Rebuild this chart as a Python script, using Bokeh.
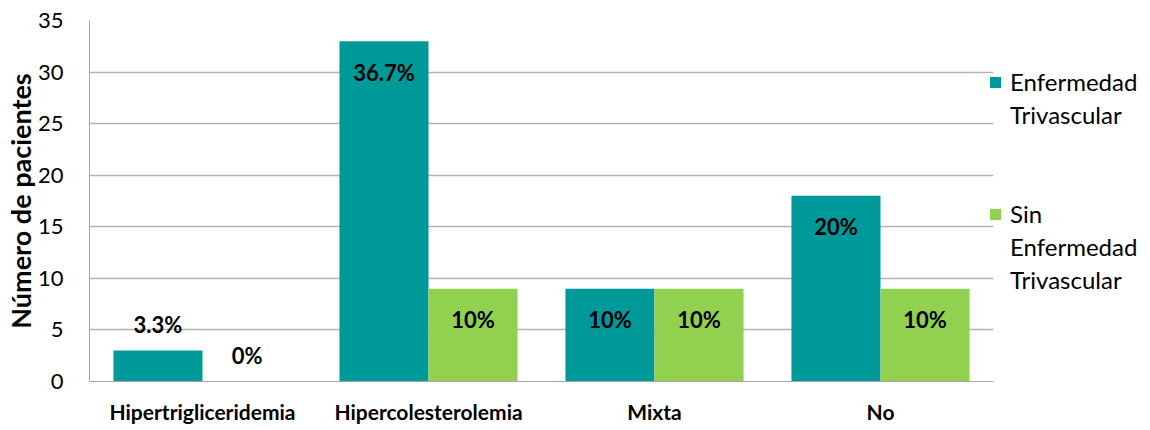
from bokeh.plotting import figure
from bokeh.models import (ColumnDataSource, FactorRange, Range1d, FixedTicker,
                          LabelSet, Legend, LegendItem)
from bokeh.core.properties import value
from bokeh.transform import dodge
from bokeh.embed import file_html
from bokeh.resources import INLINE

categories = ["Hipertrigliceridemia", "Hipercolesterolemia", "Mixta", "No"]
enfermedad = [3, 33, 9, 18]
sin_enfermedad = [0, 9, 9, 9]
enf_labels = ["3.3%", "36.7%", "10%", "20%"]
sin_labels = ["0%", "10%", "10%", "10%"]
series_lines = [["Enfermedad", "Trivascular"], ["Sin", "Enfermedad", "Trivascular"]]
y_ticks = [0, 5, 10, 15, 20, 25, 30, 35]

TEAL = "#009999"
GREEN = "#92D050"
FONT = "Lato"

p = figure(frame_width=904, frame_height=361,
           x_range=FactorRange(factors=categories, range_padding=0),
           y_range=Range1d(0, 35), output_backend="svg", toolbar_location=None,
           min_border_left=89, min_border_right=149, min_border_top=20,
           min_border_bottom=45)
p.outline_line_color = None

bw = 0.394
src = ColumnDataSource(dict(cat=categories, enf=enfermedad, sin=sin_enfermedad,
                            enf_lab=enf_labels, sin_lab=sin_labels,
                            enf_off=[26 if v < 5 else -31 for v in enfermedad],
                            sin_off=[26 if v < 5 else -31 for v in sin_enfermedad]))

r1 = p.vbar(x=dodge("cat", -bw / 2, range=p.x_range), top="enf", width=bw,
            source=src, fill_color=TEAL, line_color=None)
r2 = p.vbar(x=dodge("cat", bw / 2, range=p.x_range), top="sin", width=bw,
            source=src, fill_color=GREEN, line_color=None)
blank = p.vbar(x=[], top=[], width=0.1, fill_alpha=0, line_alpha=0)

for xo, ycol, lab, off in [(-bw / 2, "enf", "enf_lab", "enf_off"),
                           (bw / 2, "sin", "sin_lab", "sin_off")]:
    ls = LabelSet(x=dodge("cat", xo, range=p.x_range), y=ycol, text=lab,
                  y_offset=off, source=src, text_align="center",
                  text_baseline="middle", text_font=value(FONT),
                  text_font_style="bold", text_font_size="22px",
                  text_color="black")
    p.add_layout(ls)

p.yaxis.ticker = FixedTicker(ticks=y_ticks)
p.yaxis.axis_label = "Número de pacientes"
p.yaxis.axis_label_text_font = FONT
p.yaxis.axis_label_text_font_style = "bold"
p.yaxis.axis_label_text_font_size = "27px"
p.yaxis.axis_label_text_color = "black"
p.yaxis.axis_label_standoff = -2
p.yaxis.major_label_text_font = FONT
p.yaxis.major_label_text_font_size = "22px"
p.yaxis.major_label_text_color = "black"
p.yaxis.major_label_standoff = 26
p.yaxis.major_tick_out = 0
p.yaxis.major_tick_in = 0
p.yaxis.major_tick_line_color = None
p.yaxis.minor_tick_line_color = None
p.yaxis.axis_line_color = "#a6a6a6"

p.xaxis.major_label_text_font = FONT
p.xaxis.major_label_text_font_style = "bold"
p.xaxis.major_label_text_font_size = "21px"
p.xaxis.major_label_text_color = "black"
p.xaxis.major_label_standoff = 17
p.xaxis.major_tick_out = 0
p.xaxis.major_tick_in = 0
p.xaxis.major_tick_line_color = None
p.xaxis.axis_line_color = "#a6a6a6"

p.xgrid.grid_line_color = None
p.ygrid.grid_line_color = "#b3b3b3"
p.ygrid.grid_line_width = 1.5

items = []
for lines, rend in [(series_lines[0], r1), (series_lines[1], r2)]:
    if items:
        items += [LegendItem(label=" ", renderers=[blank]) for _ in range(2)]
    items += [LegendItem(label=t, renderers=[rend if i == 0 else blank])
              for i, t in enumerate(lines)]

legend = Legend(items=items, location=(-5, 85), orientation="vertical",
                label_text_font=FONT, label_text_font_size="24px",
                label_text_color="black", glyph_width=14, glyph_height=14,
                label_height=33, spacing=0, padding=0, margin=0,
                border_line_color=None, background_fill_alpha=0,
                label_standoff=8)
p.add_layout(legend, "right")

open("out.html", "w").write(file_html(p, INLINE))
